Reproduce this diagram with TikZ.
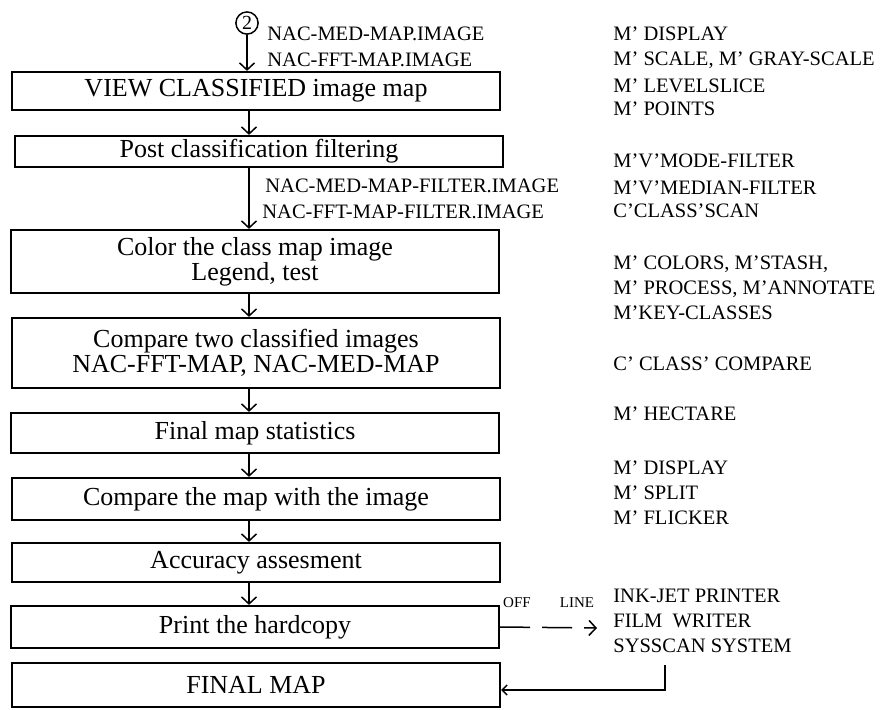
\documentclass[tikz,border=0pt]{standalone}
\usepackage{fontspec}
\setmainfont{Liberation Serif}
\usetikzlibrary{arrows.meta}

\begin{document}
\begin{tikzpicture}[
    x=0.5pt, y=-0.5pt,
    stage/.style={rectangle, draw, line width=1.1pt, minimum width=244pt, align=center,
                  inner sep=0pt, font=\fontsize{13}{12.3}\selectfont},
    flow/.style={-{Straight Barb[length=3.5pt,width=7.5pt]}, line width=0.75pt},
    file/.style={anchor=base west, inner sep=0pt, font=\fontsize{10.25}{12}\selectfont},
    cmd/.style={anchor=base west, inner sep=0pt, font=\fontsize{10.25}{12}\selectfont}
]
    \useasboundingbox (0,0) rectangle (885,709);
    \coordinate (axis) at (249,0);

    % Input
    \node[circle, draw, line width=0.75pt, inner sep=1pt, font=\fontsize{10}{10}\selectfont] (start) at (247,23) {2};
    \node[file] (medmap) at (267,40) {NAC-MED-MAP.IMAGE};
    \node[file] (fftmap) at (267,66) {NAC-FFT-MAP.IMAGE};

    % Stages
    \node[stage, minimum height=19pt] (view) at (256,91) {VIEW CLASSIFIED image map};
    \node[stage, minimum height=15.5pt] (post) at (259,151.5) {Post classification filtering};
    \node[stage, minimum height=31.5pt] (color) at (255,261.5) {Color the class map image\\Legend, test};
    \node[stage, minimum height=35pt] (compare) at (256,353) {Compare two classified images\\NAC-FFT-MAP, NAC-MED-MAP};
    \node[stage, minimum height=20pt] (stats) at (255,433) {Final map statistics};
    \node[stage, minimum height=21pt] (check) at (256,499) {Compare the map with the image};
    \node[stage, minimum height=19.5pt] (accuracy) at (256,562.5) {Accuracy assesment};
    \node[stage, minimum height=21pt] (print) at (255,627) {Print the hardcopy};
    \node[stage, minimum height=22pt] (final) at (256,685) {FINAL MAP};

    % Filtered files
    \node[file] (medfilt) at (265,192) {NAC-MED-MAP-FILTER.IMAGE};
    \node[file] (fftfilt) at (262,218) {NAC-FFT-MAP-FILTER.IMAGE};

    % Commands
    \foreach \y/\txt [count=\i] in {33/{M' DISPLAY}, 58/{M' SCALE, M' GRAY-SCALE}, 85/{M' LEVELSLICE},
        108/{M' POINTS}, 160/{M'V'MODE-FILTER}, 187/{M'V'MEDIAN-FILTER}, 210/{C'CLASS'SCAN},
        262/{M' COLORS, M'STASH,}, 287/{M' PROCESS, M'ANNOTATE}, 312/{M'KEY-CLASSES},
        363/{C' CLASS' COMPARE}, 413/{M' HECTARE}, 467/{M' DISPLAY}, 492/{M' SPLIT}, 517/{M' FLICKER},
        595/{INK-JET PRINTER}, 620/{FILM~~WRITER}, 645/{SYSSCAN SYSTEM}}
        \node[cmd] (cmd\i) at (613,\y+7) {\txt};

    % Off line output
    \node[inner sep=0pt, font=\fontsize{7.5}{8}\selectfont] (off) at (517,603) {OFF};
    \node[inner sep=0pt, font=\fontsize{7.5}{8}\selectfont] (line) at (577,603) {LINE};
    \coordinate (devices) at (597,628);
    \coordinate (back) at (665,665);

    % Arrows
    \draw[flow] (start.south) -- (view.north -| start.south);
    \draw[flow] (view.south -| axis) -- (post.north -| axis);
    \draw[flow] (post.south -| axis) -- (color.north -| axis);
    \draw[flow] (color.south -| axis) -- (compare.north -| axis);
    \draw[flow] (compare.south -| axis) -- (stats.north -| axis);
    \draw[flow] (stats.south -| axis) -- (check.north -| axis);
    \draw[flow] (check.south -| axis) -- (accuracy.north -| axis);
    \draw[flow] (accuracy.south -| axis) -- (print.north -| axis);
    \draw[flow, dash pattern=on 15pt off 6pt] (print.east) -- (devices);
    \draw[-{Straight Barb[length=2.5pt,width=5pt]}, line width=0.75pt] (back) |- ([yshift=-2.5pt]final.east);
\end{tikzpicture}
\end{document}
